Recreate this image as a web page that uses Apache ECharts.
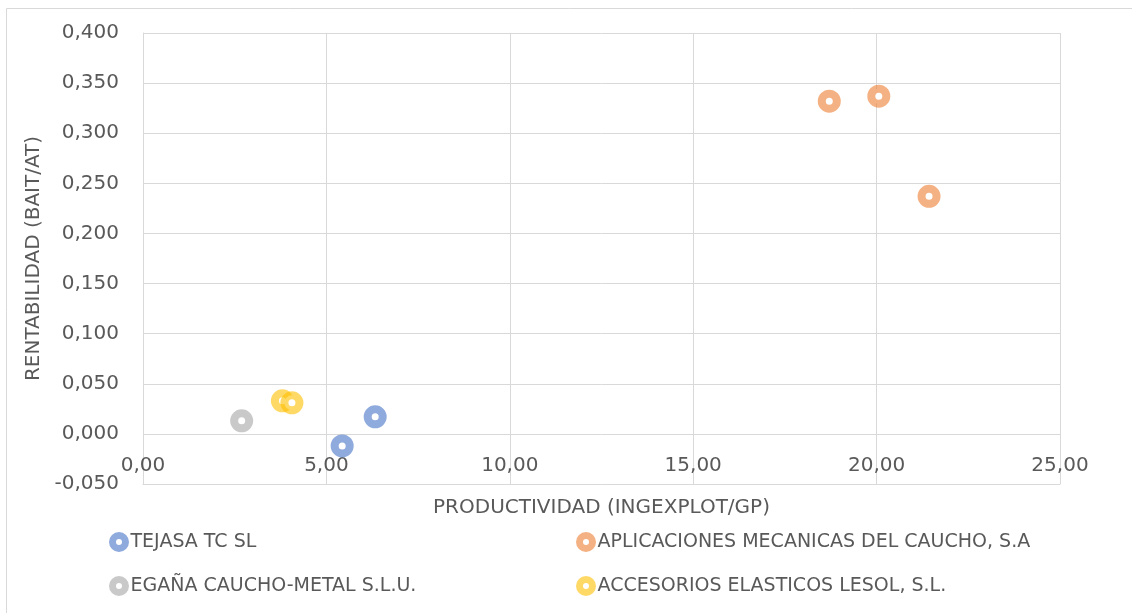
<!DOCTYPE html>
<html>
<head>
<meta charset="utf-8">
<script src="https://cdn.jsdelivr.net/npm/echarts@6/dist/echarts.min.js"></script>
<style>html,body{margin:0;padding:0;background:#fff;}#c{width:1132px;height:613px;}</style>
</head>
<body>
<div id="c"></div>
<script>
const seriesNames = ['TEJASA TC SL', 'APLICACIONES MECANICAS DEL CAUCHO, S.A', 'EGAÑA CAUCHO-METAL S.L.U.', 'ACCESORIOS ELASTICOS LESOL, S.L.'];
const tejasa = [[5.43, -0.012], [6.33, 0.017]];
const aplicaciones = [[18.71, 0.332], [20.06, 0.337], [21.43, 0.237]];
const egana = [[2.69, 0.013]];
const lesol = [[3.80, 0.033], [4.06, 0.031]];
const xTitle = 'PRODUCTIVIDAD (INGEXPLOT/GP)';
const yTitle = 'RENTABILIDAD (BAIT/AT)';
const colors = ['rgba(68,114,196,0.6)', 'rgba(237,125,49,0.6)', 'rgba(165,165,165,0.6)', 'rgba(255,192,0,0.6)'];
const FONT = 'DejaVu Sans';
const TXT = '#595959';

const chart = echarts.init(document.getElementById('c'), null, {renderer: 'canvas'});
const datas = [tejasa, aplicaciones, egana, lesol];
const series = datas.map((d, i) => ({
  name: seriesNames[i],
  type: 'scatter',
  data: d,
  symbol: 'circle',
  symbolSize: 15,
  itemStyle: {color: '#ffffff', borderColor: colors[i], borderWidth: 8, opacity: 1},
  emphasis: {disabled: true}
}));
const legendCommon = {
  orient: 'vertical',
  icon: 'circle',
  itemWidth: 13,
  itemHeight: 13,
  itemGap: 24,
  textStyle: {fontFamily: FONT, fontSize: 19, color: TXT, padding: [0, 0, 0, 0]},
  itemStyle: {borderWidth: 7},
  selectedMode: false
};
chart.setOption({
  animation: false,
  textStyle: {fontFamily: FONT},
  graphic: [{type: 'rect', shape: {x: 6.5, y: 8.5, width: 1200, height: 700}, style: {fill: 'none', stroke: '#D9D9D9', lineWidth: 1}, silent: true}],
  grid: {left: 143, right: 72, top: 33, bottom: 129},
  legend: [
    Object.assign({}, legendCommon, {left: 104, top: 527, data: [seriesNames[0], seriesNames[2]]}),
    Object.assign({}, legendCommon, {left: 571, top: 527, data: [seriesNames[1], seriesNames[3]]})
  ],
  xAxis: {
    type: 'value', min: 0, max: 25, interval: 5,
    name: xTitle, nameLocation: 'middle', nameGap: 14,
    nameTextStyle: {fontFamily: FONT, fontSize: 20, color: TXT},
    axisLine: {onZero: false, lineStyle: {color: '#D9D9D9', width: 1}},
    axisTick: {show: false},
    axisLabel: {fontFamily: FONT, fontSize: 20, color: TXT, margin: -28, formatter: v => v.toFixed(2).replace('.', ',')},
    splitLine: {show: true, lineStyle: {color: '#D9D9D9', width: 1}}
  },
  yAxis: {
    type: 'value', min: -0.05, max: 0.4, interval: 0.05,
    name: yTitle, nameLocation: 'middle', nameGap: 92, nameRotate: 90,
    nameTextStyle: {fontFamily: FONT, fontSize: 20, color: TXT},
    axisLine: {show: true, onZero: false, lineStyle: {color: '#D9D9D9', width: 1}},
    axisTick: {show: false},
    axisLabel: {fontFamily: FONT, fontSize: 20, color: TXT, margin: 24, padding: [4, 0, 0, 0], formatter: v => v.toFixed(3).replace('.', ',')},
    splitLine: {show: true, lineStyle: {color: '#D9D9D9', width: 1}}
  },
  series: series
});
</script>
</body>
</html>
